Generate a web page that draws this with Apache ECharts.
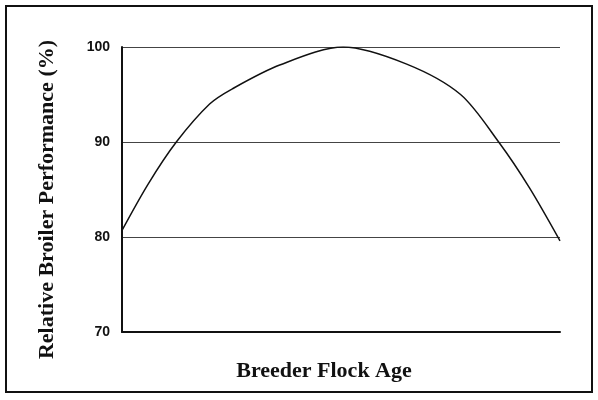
<!DOCTYPE html>
<html>
<head>
<meta charset="utf-8">
<script src="https://cdn.jsdelivr.net/npm/echarts@6/dist/echarts.min.js"></script>
<style>
  html, body { margin: 0; padding: 0; background: #fff; }
  #chart { width: 598px; height: 400px; }
</style>
</head>
<body>
<div id="chart"></div>
<script>
// flock age position (0-100 along the axis) and relative performance
const ageX = [0, 6, 12.4, 20, 25.2, 36, 50.5, 65, 77.3, 86, 93, 100];
const performance = [80.7, 85.6, 90, 94, 95.6, 98.1, 100, 98.2, 95, 90, 85.2, 79.6];
const yTicks = [70, 80, 90, 100];

const chart = echarts.init(document.getElementById("chart"));

const option = {
  backgroundColor: "#fff",
  animation: false,
  grid: {
    left: 122,
    right: 38,
    top: 47,
    bottom: 68,
  },
  graphic: [
    {
      type: "rect",
      shape: { x: 6, y: 6, width: 586, height: 386 },
      style: { fill: "none", stroke: "#111", lineWidth: 2 },
      silent: true,
    },
  ],
  xAxis: {
    type: "value",
    min: 0,
    max: 100,
    name: "Breeder Flock Age",
    nameLocation: "middle",
    nameGap: 28,
    nameTextStyle: {
      fontFamily: "Liberation Serif",
      fontWeight: "bold",
      fontSize: 22,
      color: "#111",
      padding: [0, 34, 0, 0],
    },
    axisLine: { lineStyle: { color: "#111", width: 2 } },
    axisTick: { show: false },
    axisLabel: { show: false },
    splitLine: { show: false },
  },
  yAxis: {
    type: "value",
    min: yTicks[0],
    max: yTicks[yTicks.length - 1],
    interval: 10,
    name: "Relative Broiler Performance (%)",
    nameLocation: "middle",
    nameGap: 64,
    nameTextStyle: {
      fontFamily: "Liberation Serif",
      fontWeight: "bold",
      fontSize: 22,
      color: "#111",
      padding: [0, 20, 0, 0],
    },
    axisLine: { show: true, lineStyle: { color: "#111", width: 2 } },
    axisTick: { show: false },
    axisLabel: {
      margin: 12,
      fontFamily: "Liberation Sans",
      fontWeight: "bold",
      fontSize: 14,
      color: "#111",
    },
    splitLine: {
      show: true,
      lineStyle: { color: "#444", width: 1 },
    },
  },
  series: [
    {
      type: "line",
      data: ageX.map((x, i) => [x, performance[i]]),
      smooth: 0.3,
      symbol: "none",
      lineStyle: { color: "#111", width: 1.5 },
    },
  ],
};

chart.setOption(option);
</script>
</body>
</html>
